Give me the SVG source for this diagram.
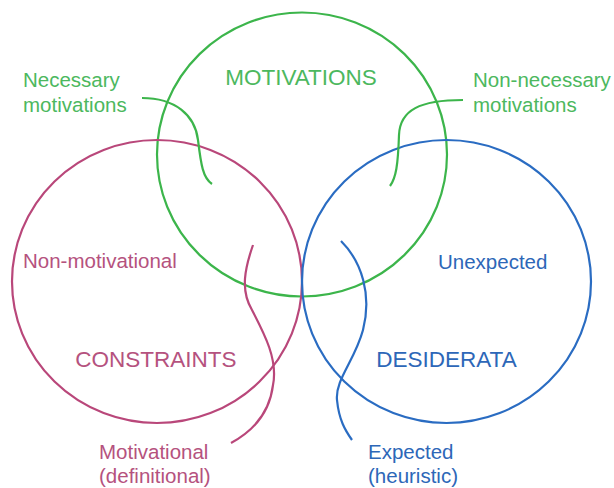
<svg xmlns="http://www.w3.org/2000/svg" width="614" height="488" viewBox="0 0 614 488">
<style>
.c{fill:none;stroke-width:2.2}
.g{stroke:#3cb54b}
.p{stroke:#b9477a}
.b{stroke:#2a6cc2}
text{font-family:"Liberation Sans",Arial,sans-serif;font-size:20.5px}
.tg{fill:#4cb85e}
.tp{fill:#b5527e}
.tb{fill:#2d67b8}
.big{font-size:22.5px}
</style>
<rect width="614" height="488" fill="#ffffff"/>
<g id="motivations">
<ellipse class="c g" cx="302" cy="154.5" rx="145" ry="142"/>
<text class="tg big" x="301" y="85" text-anchor="middle">MOTIVATIONS</text>
</g>
<g id="constraints">
<ellipse class="c p" cx="157" cy="281.5" rx="145" ry="141.5"/>
<text class="tp big" x="156" y="367" text-anchor="middle">CONSTRAINTS</text>
</g>
<g id="desiderata">
<ellipse class="c b" cx="446.5" cy="281.5" rx="144.5" ry="141.5"/>
<text class="tb big" x="446.5" y="367" text-anchor="middle">DESIDERATA</text>
</g>
<g id="necessary">
<text class="tg" x="23" y="87">Necessary</text>
<text class="tg" x="23" y="112">motivations</text>
</g>
<g id="non-necessary">
<text class="tg" x="473" y="87">Non-necessary</text>
<text class="tg" x="473" y="112">motivations</text>
</g>
<g id="non-motivational">
<text class="tp" x="23" y="268">Non-motivational</text>
</g>
<g id="motivational">
<text class="tp" x="99" y="459">Motivational</text>
<text class="tp" x="99" y="483">(definitional)</text>
</g>
<g id="unexpected">
<text class="tb" x="438" y="269">Unexpected</text>
</g>
<g id="expected">
<text class="tb" x="368" y="459">Expected</text>
<text class="tb" x="368" y="483">(heuristic)</text>
</g>
<g id="connectors">
<path class="c g" d="M142,98 C175,98 195,115 198,140 C201,165 203,178 212,184"/>
<path class="c g" d="M463,100 C420,100 400,110 399,135 C398,165 396,178 390,186"/>
<path class="c p" d="M253,245 C245,268 240,290 252,310 C265,335 278,360 273,385 C270,410 255,430 231,443"/>
<path class="c b" d="M341,241 C362,262 372,295 363,330 C355,360 335,380 337,400 C339,420 345,430 352,440"/>
</g>
</svg>
